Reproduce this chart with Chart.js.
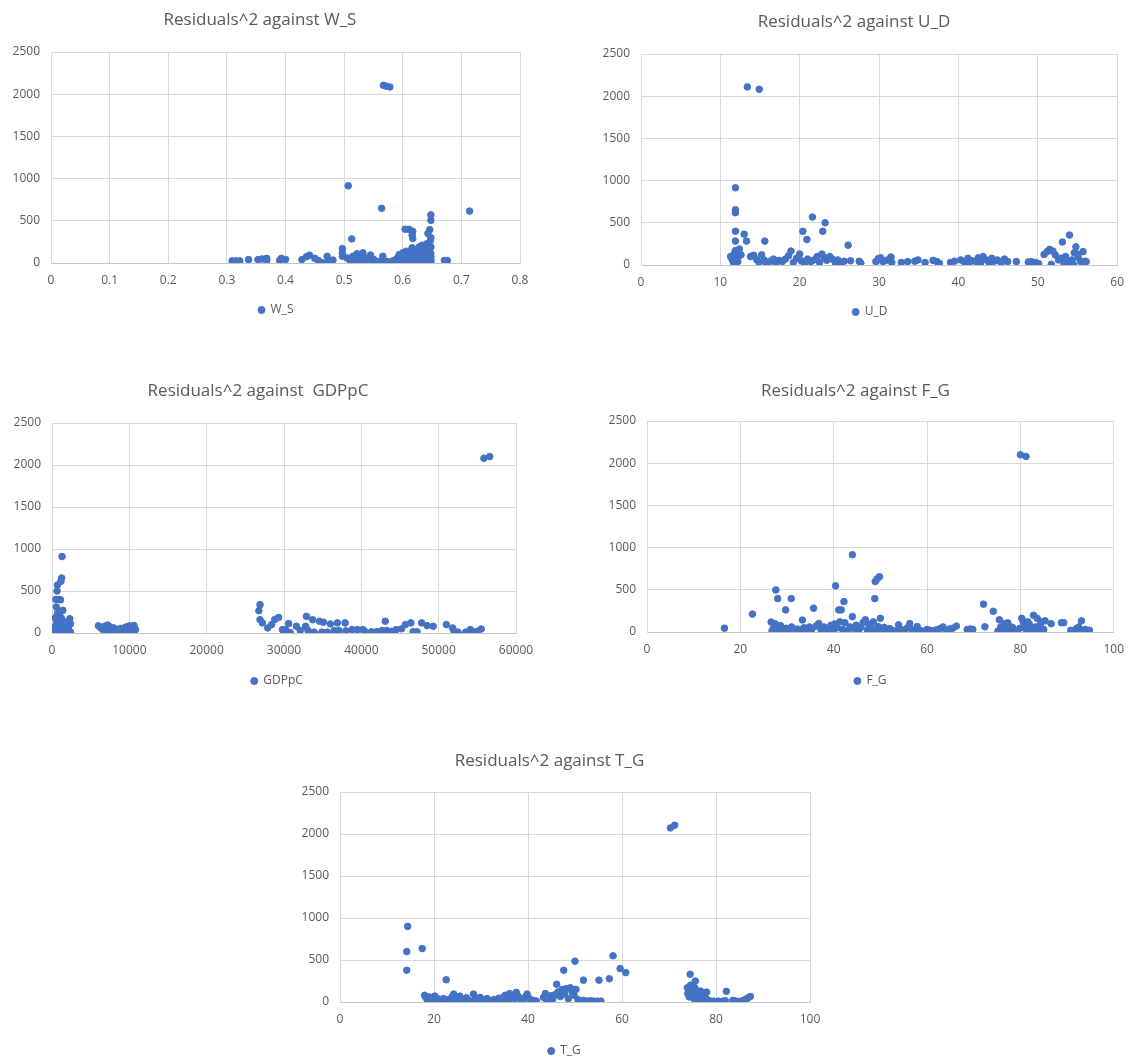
<!DOCTYPE html>
<html><head><meta charset="utf-8">
<script src="https://cdn.jsdelivr.net/npm/chart.js@4.4.1/dist/chart.umd.min.js"></script>
<style>
html,body{margin:0;padding:0;background:#fff;overflow:hidden;}
body{width:1134px;height:1059px;position:relative;}
canvas{position:absolute;}
</style></head><body>
<canvas id="c1"></canvas><canvas id="c2"></canvas><canvas id="c3"></canvas><canvas id="c4"></canvas><canvas id="c5"></canvas>
<script>
// ---------- data ----------
const yTickValues = [0, 500, 1000, 1500, 2000, 2500];
const wsTicks = [0, 0.1, 0.2, 0.3, 0.4, 0.5, 0.6, 0.7, 0.8];
const udTicks = [0, 10, 20, 30, 40, 50, 60];
const gdpTicks = [0, 10000, 20000, 30000, 40000, 50000, 60000];
const fgTicks = [0, 20, 40, 60, 80, 100];
const tgTicks = [0, 20, 40, 60, 80, 100];

const wsData = [
 [0.567,2105],[0.578,2085],[0.572,2095],[0.507,915],[0.564,648],[0.714,615],
 [0.648,570],[0.648,505],[0.646,395],[0.643,350],[0.648,300],[0.647,265],[0.641,228],[0.648,190],[0.645,150],[0.648,110],[0.648,75],[0.648,40],[0.648,15],
 [0.604,400],[0.611,398],[0.617,375],[0.617,290],[0.616,330],[0.513,285],
 [0.497,170],[0.497,120],[0.497,80],
 [0.309,25],[0.315,25],[0.322,25],[0.337,40],[0.353,40],[0.36,48],[0.368,55],[0.368,30],[0.39,30],[0.393,55],[0.40,42],
 [0.428,40],[0.436,75],[0.441,92],[0.45,55],[0.456,30],[0.462,5],[0.471,78],[0.473,30],[0.477,20],[0.481,35],
 [0.509,40],[0.515,80],[0.517,15],[0.522,110],[0.529,80],[0.532,120],[0.535,15],[0.545,95],[0.546,35],[0.555,20],
 [0.563,20],[0.566,80],[0.572,20],[0.577,10],[0.583,25],[0.52,50],[0.54,60],[0.55,45],[0.505,60],[0.525,30],
 [0.588,40],[0.59,15],[0.592,70],[0.594,100],[0.596,25],[0.598,50],[0.6,120],[0.6,10],[0.602,80],[0.603,35],
 [0.605,60],[0.606,140],[0.607,5],[0.608,95],[0.61,30],[0.611,70],[0.612,110],[0.613,15],[0.615,50],[0.616,180],
 [0.617,85],[0.618,20],[0.619,140],[0.62,60],[0.621,100],[0.622,30],[0.623,160],[0.624,10],[0.625,75],[0.626,120],
 [0.627,45],[0.628,190],[0.629,20],[0.63,90],[0.631,150],[0.632,55],[0.633,210],[0.634,30],[0.635,110],[0.636,170],
 [0.637,70],[0.638,15],[0.639,130],[0.64,45],[0.641,95],[0.642,200],[0.643,25],[0.644,60],[0.645,150],[0.646,85],
 [0.647,5],[0.614,130],[0.609,45],[0.619,5],[0.627,140],[0.633,85],
 [0.671,30],[0.676,30],[0.673,25]
];

const udData = [
 [13.4,2110],[14.9,2082],[11.9,915],[11.9,655],[11.9,620],[11.9,400],[11.9,283],[13.0,365],[13.3,283],[15.6,283],
 [20.4,400],[20.9,302],[21.6,568],[22.9,400],[23.2,500],[26.1,235],
 [11.3,100],[11.5,60],[11.7,20],[11.8,140],[11.9,170],[12.0,5],[12.1,80],[12.2,40],[12.4,190],[12.6,120],[11.6,110],
 [13.8,100],[14.2,115],[14.6,60],[14.9,30],[15.2,120],[15.5,60],[15.8,20],[16.3,45],[16.7,70],[17.0,25],[17.4,55],
 [17.8,40],[18.2,70],[18.6,110],[18.9,165],[19.2,30],[19.6,80],[20.0,130],[20.2,50],[20.6,20],[21.0,70],[21.4,40],
 [21.8,60],[22.2,100],[22.5,30],[22.8,130],[23.1,90],[23.4,55],[23.8,100],[24.1,70],[24.5,30],[24.8,60],[25.2,20],
 [25.6,45],[26.4,50],[27.5,45],[27.7,20],
 [29.6,40],[29.9,75],[30.2,85],[30.5,40],[30.9,55],[31.3,70],[31.6,30],[31.5,95],
 [32.8,30],[33.6,40],[34.5,45],[34.9,60],[35.8,30],[36.8,55],[37.3,40],[37.6,20],[39.0,30],[39.5,45],[40.3,60],
 [40.8,30],[41.2,80],[41.3,15],[41.7,50],[42.2,40],[42.5,85],[42.8,30],[43.1,100],[43.5,60],[43.9,25],[44.2,80],
 [44.5,45],[44.9,60],[45.4,30],[45.8,70],[46.2,40],[47.3,40],[48.8,35],[49.2,40],[49.7,30],[50.1,15],
 [50.8,125],[51.2,160],[51.5,185],[51.9,165],[52.2,120],[52.6,60],[51.7,8],[53.1,272],[53.5,100],[54.0,355],
 [54.3,60],[54.6,145],[54.8,215],[55.1,90],[55.4,40],[55.7,158],[55.9,45],[53.8,30],[54.5,5],[55.0,130],
 [56.1,40],[52.9,80],[53.3,20]
];

const gdpData = [
 [1300,910],[1250,655],[1150,615],[700,570],[650,500],[500,400],[900,400],[1100,395],[1400,270],[550,310],
 [800,260],[2300,170],[2400,110],[400,180],[600,150],[1000,140],[1300,120],[1600,100],[1900,80],[2100,60],
 [500,90],[700,50],[900,30],[1100,70],[1500,40],[1800,20],[2000,110],[2200,30],[400,20],[600,5],[800,100],
 [1200,10],[1400,60],[1700,130],[2400,10],[300,60],[1000,200],[1600,15],[1900,45],[700,220],[1200,180],
 [6000,85],[6300,60],[6600,40],[6800,80],[7000,20],[7200,95],[7400,50],[7600,70],[7800,30],[8000,60],[8300,45],
 [8600,20],[8900,55],[9200,35],[9500,70],[9800,30],[10000,85],[10200,15],[10400,60],[10600,90],[10800,40],
 [7100,10],[8200,15],[9000,10],
 [26750,265],[26900,337],[26900,158],[27200,120],[27900,60],[28400,100],[28800,160],[29300,185],[29800,40],
 [30200,40],[30600,112],[30800,5],[31600,80],[32100,30],[32800,80],[32900,198],[33100,30],[33700,158],[33900,10],
 [34600,140],[35100,128],[34900,10],[35600,10],[36000,108],[36500,30],[36900,120],[37100,30],[37900,120],[38000,25],
 [38800,40],[39500,40],[40200,40],[40400,20],[41300,15],[42000,15],[42700,30],[43100,140],[43300,30],[43900,20],
 [44500,40],[45200,50],[45700,100],[46400,120],[46700,15],[47200,15],[47800,120],[48500,88],[49300,80],[51000,100],
 [51800,60],[52000,20],[52500,10],[53500,10],[54100,40],[54600,10],[55000,20],[55500,48],
 [55850,2080],[56600,2100]
];

const fgData = [
 [16.6,45],[22.6,212],[27.6,498],[28.0,396],[30.9,396],[29.7,262],[35.7,282],[33.3,142],[40.4,547],[41.1,262],
 [41.6,262],[42.2,360],[44.0,915],[44.0,182],[48.9,598],[49.3,630],[49.8,655],[48.8,396],[50.0,162],[72.1,330],
 [72.4,62],[74.2,245],[75.5,145],[76.6,100],[77.3,108],[80.0,2100],[81.2,2080],[80.3,162],[80.6,125],[81.6,120],
 [82.8,198],[83.6,162],[84.5,120],[85.3,132],[86.6,98],[88.8,110],[89.3,110],[93.1,132],
 [26.6,118],[26.8,15],[27.2,60],[27.5,95],[28.2,30],[28.6,75],[29.3,10],[29.8,45],[30.4,20],[31.0,60],[31.6,10],
 [32.2,35],[32.8,15],[33.6,50],[34.2,20],[34.8,60],[35.3,35],[36.2,70],[36.8,100],[37.3,25],[37.9,60],[38.4,10],
 [38.9,45],[39.4,80],[39.9,20],[40.2,95],[40.8,50],[41.3,120],[41.9,30],[42.4,110],[42.9,10],[43.5,60],[44.3,40],
 [44.8,80],[45.3,15],[45.8,55],[46.3,110],[46.8,145],[47.2,25],[47.6,90],[48.1,40],[48.5,120],[49.0,10],[49.5,65],
 [50.3,30],[50.8,55],
 [51.4,15],[52.0,40],[52.6,20],[53.3,10],[53.9,85],[54.5,30],[55.2,15],[55.8,50],[56.3,100],[56.8,25],[57.4,10],
 [57.9,65],[58.5,20],[59.2,5],[60.0,30],[60.7,20],[61.3,10],[62.0,25],[62.8,40],[63.4,60],[64.1,20],[64.8,35],
 [65.5,45],[66.3,70],[68.6,30],[69.3,35],[69.8,30],
 [75.2,10],[75.8,60],[76.2,20],[76.8,40],[77.4,80],[77.9,15],[78.3,55],[78.8,25],[79.4,10],[79.9,45],[80.8,70],
 [81.3,20],[81.9,90],[82.3,40],[82.7,10],[83.2,60],[83.8,25],[84.2,80],[85.0,30],[90.8,20],[91.5,15],[92.0,40],
 [92.5,60],[92.9,20],[93.4,10],[93.9,30],[94.3,15],[94.8,20]
];

const tgData = [
 [14.4,900],[14.2,600],[14.2,378],[17.5,636],[22.6,265],[70.3,2072],[71.2,2104],[46.1,212],[47.6,378],[50.0,486],
 [51.8,260],[55.1,260],[57.3,277],[58.1,550],[59.6,398],[60.8,350],[74.5,330],[75.6,250],[78.0,117],[82.2,127],
 [18.0,80],[18.3,50],[18.6,30],[19.0,60],[19.4,20],[19.8,45],[20.2,70],[20.6,10],[21.0,35],[21.5,15],[22.0,40],
 [22.8,25],[23.4,10],[23.8,60],[24.2,95],[24.6,40],[25.0,20],[25.5,70],[26.0,30],[26.4,10],[26.9,50],[27.4,20],
 [27.9,5],[28.4,95],[28.8,40],[29.3,15],[29.8,55],[30.3,25],[30.8,10],[31.3,40],[31.8,20],[32.3,5],[32.8,30],
 [33.3,15],[33.8,45],[34.3,25],[34.8,60],[35.2,80],[35.6,30],[36.1,100],[36.6,50],[37.0,15],[37.5,115],[37.9,70],
 [38.4,35],[38.9,10],[39.4,55],[39.8,95],[40.3,40],[40.8,20],[41.3,15],[41.8,10],
 [43.3,55],[43.7,100],[44.0,20],[44.4,5],[44.9,75],[45.3,40],[45.8,90],[46.4,120],[46.9,65],[47.3,150],[47.8,100],
 [48.2,160],[48.6,40],[49.0,170],[49.4,120],[49.8,80],[50.2,150],[50.6,30],
 [51.2,10],[51.8,20],[52.5,10],[53.3,15],[54.0,10],[54.8,10],[55.5,10],
 [73.9,170],[74.0,100],[74.3,60],[74.6,200],[74.8,140],[75.0,90],[75.3,40],[75.5,170],[75.8,110],[76.1,70],
 [76.4,20],[76.7,130],[77.0,50],[77.3,90],[77.6,15],[77.9,40],[78.3,20],[78.8,10],[79.5,10],[80.5,10],[81.5,10],
 [82.0,15],
 [83.6,20],[84.2,10],[84.8,5],[85.4,10],[85.9,20],[86.4,35],[86.8,50],[87.3,65]
];

// ---------- rendering ----------
const DOT = '#4472C4';
const TXT = '#595959';
const GRID = '#d9d9d9';
Chart.defaults.font.family = "'Open Sans', 'DejaVu Sans', sans-serif";
Chart.defaults.color = TXT;

// shifts the legend box horizontally after layout (legend in the source is right of the title centre)
const legendShift = {
  id: 'legendShift',
  afterLayout(chart, args, opts) {
    const l = chart.legend;
    if (l && opts && opts.dx) { l.left += opts.dx; l.right += opts.dx; }
  }
};

function build(id, cfg) {
  const {rect, plot, titleY, legendY, legendDx, title, label, data, xTicks} = cfg;
  const cv = document.getElementById(id);
  cv.width = rect.w; cv.height = rect.h;
  cv.style.left = rect.x + 'px'; cv.style.top = rect.y + 'px';
  cv.style.width = rect.w + 'px'; cv.style.height = rect.h + 'px';
  const TS = 17, tlh = TS * 1.2;
  const tPadTop = titleY - rect.y - tlh / 2;
  const tPadBot = plot.T - rect.y - tPadTop - tlh;
  const yW = plot.L - rect.x;
  const padR = rect.x + rect.w - plot.R;
  const XH = 28;
  const legTop = plot.B + XH;
  const lp = legendY - legTop - 6;
  const legH = 12 + lp + 10;
  const padB = Math.max(0, rect.y + rect.h - (legTop + legH));
  new Chart(cv, {
    type: 'scatter',
    plugins: [legendShift],
    data: { datasets: [{
      label: label,
      data: data.map(p => ({ x: p[0], y: p[1] })),
      backgroundColor: DOT, borderColor: DOT, borderWidth: 1,
      pointRadius: 3.3, pointHoverRadius: 3.3, pointStyle: 'circle'
    }] },
    options: {
      responsive: false, animation: false, devicePixelRatio: 1,
      events: [],
      layout: { padding: { left: 0, top: 0, right: padR, bottom: padB } },
      plugins: {
        legendShift: { dx: legendDx },
        title: { display: true, text: title, color: TXT,
          font: { size: TS, weight: 'normal', lineHeight: 1.2 },
          padding: { top: tPadTop, bottom: tPadBot } },
        legend: { position: 'bottom',
          labels: { usePointStyle: true, pointStyle: 'circle', boxWidth: 6, boxHeight: 5,
            padding: lp, color: TXT, font: { size: 12 } } },
        tooltip: { enabled: false }
      },
      scales: {
        x: { type: 'linear', min: xTicks[0], max: xTicks[xTicks.length - 1],
          afterBuildTicks: s => { s.ticks = xTicks.map(v => ({ value: v })); },
          afterFit: s => { s.height = XH; },
          ticks: { padding: 10, color: TXT, font: { size: 12 }, maxRotation: 0, autoSkip: false,
            callback: v => String(v) },
          grid: { color: GRID, drawTicks: false },
          border: { color: '#c6c6c6' } },
        y: { type: 'linear', min: 0, max: 2500,
          afterBuildTicks: s => { s.ticks = yTickValues.map(v => ({ value: v })); },
          afterFit: s => { s.width = yW; },
          ticks: { padding: 11, color: TXT, font: { size: 12 }, autoSkip: false,
            callback: v => String(v) },
          grid: { color: GRID, drawTicks: false },
          border: { color: GRID } }
      }
    }
  });
}

build('c1', { rect: {x:0, y:0, w:560, h:335}, plot: {L:51, T:52, R:520, B:263},
  titleY: 20, legendY: 310, legendDx: 16, title: 'Residuals^2 against W_S', label: 'W_S', data: wsData, xTicks: wsTicks });
build('c2', { rect: {x:590, y:0, w:544, h:335}, plot: {L:641, T:54, R:1118, B:265},
  titleY: 22, legendY: 312, legendDx: 16, title: 'Residuals^2 against U_D', label: 'U_D', data: udData, xTicks: udTicks });
build('c3', { rect: {x:0, y:340, w:560, h:360}, plot: {L:52, T:423, R:516, B:633},
  titleY: 391, legendY: 681, legendDx: 19, title: 'Residuals^2 against  GDPpC', label: 'GDPpC', data: gdpData, xTicks: gdpTicks });
build('c4', { rect: {x:596, y:340, w:538, h:360}, plot: {L:647, T:421, R:1115, B:632},
  titleY: 391, legendY: 681, legendDx: 15, title: 'Residuals^2 against F_G', label: 'F_G', data: fgData, xTicks: fgTicks });
build('c5', { rect: {x:289, y:720, w:560, h:360}, plot: {L:340, T:792, R:810, B:1002},
  titleY: 761, legendY: 1051, legendDx: 15, title: 'Residuals^2 against T_G', label: 'T_G', data: tgData, xTicks: tgTicks });
</script></body></html>
